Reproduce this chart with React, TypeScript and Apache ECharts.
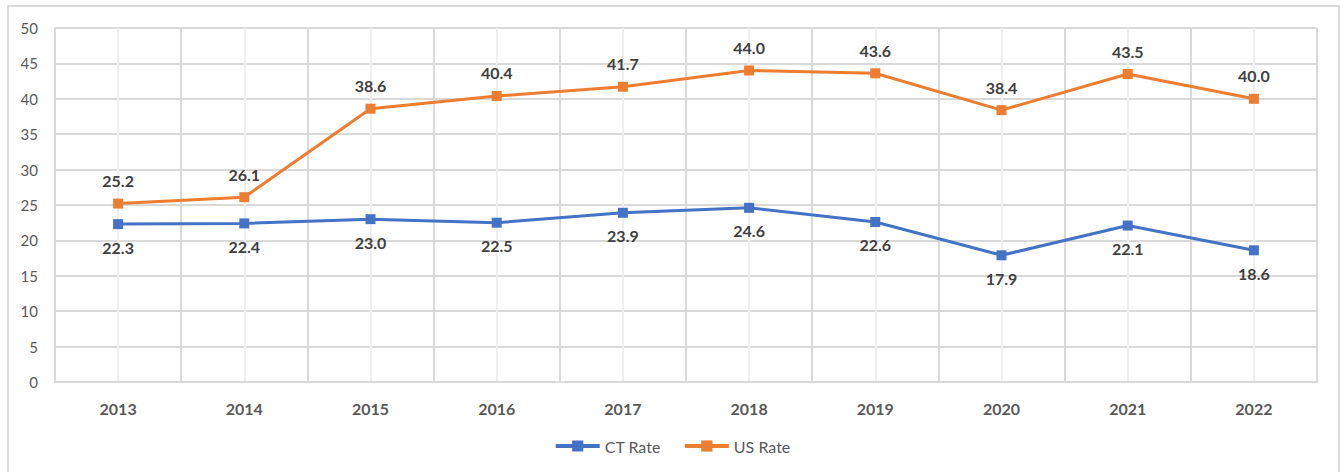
import React, { useEffect, useRef } from "react";
import * as echarts from "echarts";

const years = ["2013", "2014", "2015", "2016", "2017", "2018", "2019", "2020", "2021", "2022"];
const ctRate = [22.3, 22.4, 23.0, 22.5, 23.9, 24.6, 22.6, 17.9, 22.1, 18.6];
const usRate = [25.2, 26.1, 38.6, 40.4, 41.7, 44.0, 43.6, 38.4, 43.5, 40.0];

const FONT = "Lato, 'Open Sans', sans-serif";

export default function App() {
  const ref = useRef<HTMLDivElement>(null);
  useEffect(() => {
    if (!ref.current) return;
    const chart = echarts.init(ref.current, null, { renderer: "svg" });
    const label = (pos: string) => ({
      show: true,
      position: pos,
      distance: 10,
      fontFamily: FONT,
      fontWeight: "bold",
      fontSize: 16,
      color: "#404040",
      formatter: (p: any) => Number(p.value).toFixed(1),
    });
    chart.setOption({
      animation: false,
      backgroundColor: "#ffffff",
      textStyle: { fontFamily: FONT },
      graphic: [
        {
          type: "rect",
          shape: { x: 8, y: 6, width: 1331, height: 480 },
          style: { fill: "none", stroke: "#d9d9d9", lineWidth: 2 },
          silent: true,
        },
      ],
      grid: { left: 55, right: 27, top: 28, bottom: 90, containLabel: false },
      xAxis: [
        {
          type: "category",
          data: years,
          boundaryGap: true,
          axisLine: { show: true, lineStyle: { color: "#d9d9d9", width: 2 } },
          axisTick: { show: false },
          splitLine: { show: false },
          axisLabel: {
            margin: 18,
            fontFamily: FONT,
            fontWeight: "bold",
            fontSize: 16,
            color: "#595959",
          },
        },
        {
          type: "value",
          min: 0,
          max: 20,
          interval: 1,
          show: true,
          position: "bottom",
          axisLine: { show: false },
          axisTick: { show: false },
          axisLabel: { show: false },
          splitLine: { show: true, lineStyle: { color: ["#d9d9d9", "#efefef"], width: 2 } },
        },
      ],
      yAxis: {
        type: "value",
        min: 0,
        max: 50,
        interval: 5,
        axisLine: { show: false },
        axisTick: { show: false },
        axisLabel: { margin: 17, fontFamily: FONT, fontSize: 15, color: "#595959" },
        splitLine: { show: true, lineStyle: { color: "#d9d9d9", width: 2 } },
      },
      legend: {
        bottom: 13,
        left: "center",
        itemWidth: 44,
        itemHeight: 14,
        itemGap: 22,
        lineStyle: { width: 4 },
        textStyle: { fontFamily: FONT, fontSize: 16, color: "#595959" },
        data: ["CT Rate", "US Rate"],
      },
      series: [
        {
          name: "CT Rate",
          type: "line",
          xAxisIndex: 0,
          data: ctRate,
          symbol: "rect",
          symbolSize: 10,
          lineStyle: { width: 3, color: "#4472C4" },
          itemStyle: { color: "#4472C4" },
          label: label("bottom"),
          z: 3,
        },
        {
          name: "US Rate",
          type: "line",
          xAxisIndex: 0,
          data: usRate,
          symbol: "rect",
          symbolSize: 10,
          lineStyle: { width: 3, color: "#ED7D31" },
          itemStyle: { color: "#ED7D31" },
          label: label("top"),
          z: 3,
        },
      ],
    });
    return () => chart.dispose();
  }, []);
  return (
    <div
      ref={ref}
      style={{ position: "absolute", left: 0, top: 0, width: 1344, height: 472 }}
    />
  );
}
